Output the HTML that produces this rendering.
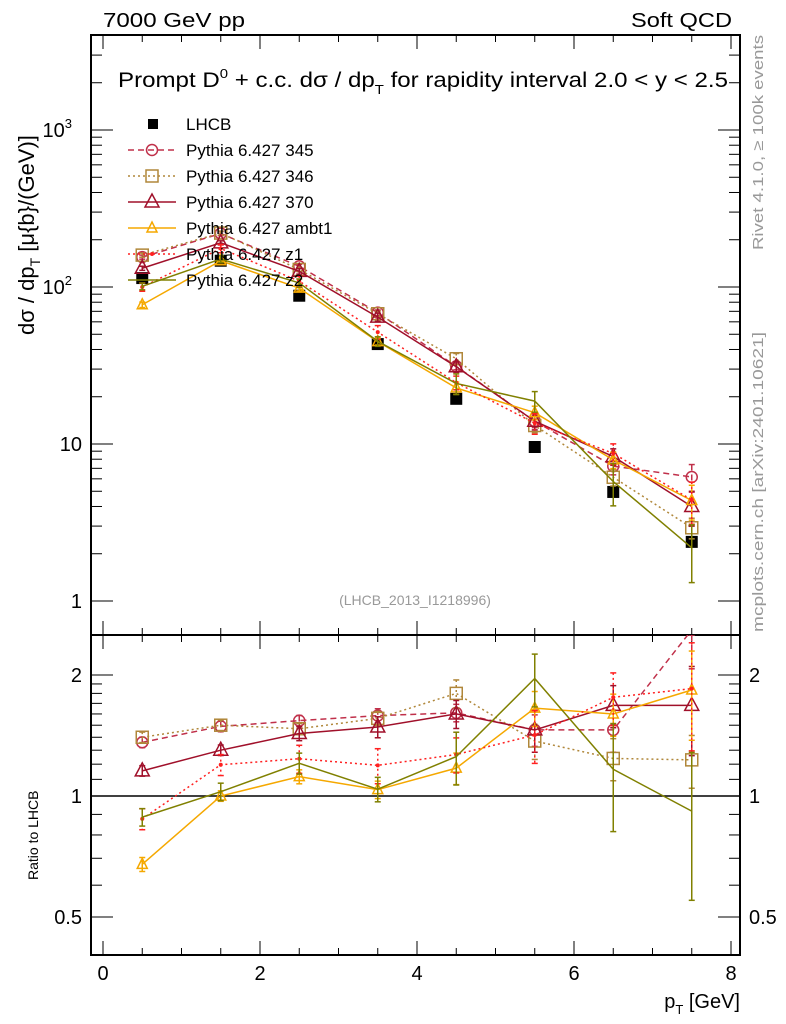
<!DOCTYPE html>
<html><head><meta charset="utf-8"><style>
body{margin:0;background:#fff}
svg{display:block;font-family:"Liberation Sans",sans-serif}
</style></head><body>
<svg id="c" width="786" height="1024" viewBox="0 0 786 1024" xmlns="http://www.w3.org/2000/svg">
<rect width="786" height="1024" fill="#fff"/>
<text x="103" y="27" font-size="20" textLength="142" lengthAdjust="spacingAndGlyphs">7000 GeV pp</text>
<text x="732" y="27" font-size="20" text-anchor="end" textLength="101" lengthAdjust="spacingAndGlyphs">Soft QCD</text>
<text x="118" y="87" font-size="21" textLength="610" lengthAdjust="spacingAndGlyphs">Prompt D<tspan dy="-9" font-size="13">0</tspan><tspan dy="9"> + c.c.  dσ / dp</tspan><tspan dy="7" font-size="13">T</tspan><tspan dy="-7"> for rapidity interval 2.0 &lt; y &lt; 2.5</tspan></text>
<text transform="translate(34,335) rotate(-90)" font-size="22">dσ / dp<tspan dy="6" font-size="14">T</tspan><tspan dy="-6"> [μ{b}/(GeV)]</tspan></text>
<text transform="translate(38,880) rotate(-90)" font-size="14">Ratio to LHCB</text>
<text x="740" y="1008" font-size="20" text-anchor="end">p<tspan dy="6" font-size="13">T</tspan><tspan dy="-6"> [GeV]</tspan></text>
<text transform="translate(763,250) rotate(-90)" font-size="15" fill="#999" textLength="215" lengthAdjust="spacingAndGlyphs">Rivet 4.1.0, ≥ 100k events</text>
<text transform="translate(763,632) rotate(-90)" font-size="15" fill="#999" textLength="300" lengthAdjust="spacingAndGlyphs">mcplots.cern.ch [arXiv:2401.10621]</text>
<text x="415" y="605" font-size="14" fill="#999" text-anchor="middle">(LHCB_2013_I1218996)</text>
<g id="g"></g>
</svg>
<script>
const xs=[0.5,1.5,2.5,3.5,4.5,5.5,6.5,7.5];
const lhcb=[114,147,88,43.3,19.4,9.57,4.95,2.38];
const lhcbErr=[0.05,0.05,0.05,0.05,0.05,0.06,0.07,0.08];
const r345=[1.36,1.49,1.54,1.585,1.61,1.46,1.46,2.59];
const r346=[1.40,1.50,1.47,1.56,1.80,1.37,1.24,1.23];
const r370=[1.155,1.30,1.43,1.485,1.60,1.46,1.68,1.68];
const rambt1=[0.676,1.0,1.117,1.037,1.173,1.654,1.60,1.835];
const rz1=[0.877,1.196,1.238,1.192,1.268,1.418,1.76,1.85];
const rz2=[0.886,1.025,1.206,1.04,1.253,1.96,1.165,0.917];
const e345=[0.03,0.03,0.03,0.04,0.05,0.09,0.12,0.2];
const e346=[0.03,0.03,0.03,0.04,0.08,0.1,0.12,0.15];
const e370=[0.03,0.03,0.04,0.06,0.08,0.12,0.12,0.25];
const eambt1=[0.04,0.03,0.04,0.05,0.09,0.1,0.12,0.25];
const ez1=[0.06,0.06,0.08,0.1,0.1,0.15,0.15,0.3];
const ez2=[0.05,0.05,0.06,0.07,0.15,0.15,0.3,0.4];
const xTicks=[0,2,4,6,8];
const ns="http://www.w3.org/2000/svg",G=document.getElementById('g');
const X0=91,X1=740,T=35,MB=635,RB=955;
const px=v=>103+v*78.5;
const py=v=>601-157*Math.log10(v);
const ry=v=>796-402*Math.log10(v);
function el(t,a,p){const e=document.createElementNS(ns,t);for(const k in a)e.setAttribute(k,a[k]);(p||G).appendChild(e);return e;}
function ln(x1,y1,x2,y2,s,w){return el('line',{x1,y1,x2,y2,stroke:s||'#000','stroke-width':w||1});}
const f1=el('rect',{x:X0,y:T,width:X1-X0,height:MB-T,fill:'none',stroke:'#000','stroke-width':2});


const f2=el('rect',{x:X0,y:MB,width:X1-X0,height:RB-MB,fill:'none',stroke:'#000','stroke-width':2});


for(let v=0;v<=8.01;v+=0.5){const maj=Math.abs(v-Math.round(v/2)*2)<1e-6;const L=maj?14:7;const x=px(v);
 [[T,T+L],[MB,MB-L],[MB,MB+L],[RB,RB-L]].forEach(a=>ln(x,a[0],x,a[1]));}
xTicks.forEach(v=>{const t=el('text',{x:px(v),y:980,'font-size':20,'text-anchor':'middle'});t.textContent=v;

});
for(let d=0;d<4;d++)for(let m=1;m<10;m++){const v=m*Math.pow(10,d);const y=py(v);if(y<T)continue;const L=m==1?22:11;ln(X0,y,X0+L,y);ln(X1,y,X1-L,y);}
const yl=[[1,'1'],[10,'10'],[100,'10','2'],[1000,'10','3']];
yl.forEach(a=>{const t=el('text',{x:a[2]?72:82,y:py(a[0])+7,'font-size':20,'text-anchor':'end'});t.textContent=a[1];
 if(a[2]){const s=el('tspan',{dy:-9,'font-size':13},t);s.textContent=a[2];}
 
 });
const rt=[0.5,0.6,0.7,0.8,0.9,1,1.1,1.2,1.3,1.4,1.5,1.6,1.7,1.8,1.9,2];
rt.forEach(v=>{const y=ry(v);if(y<MB)return;const maj=(v==0.5||v==1||v==2);const L=maj?22:11;ln(X0,y,X0+L,y);ln(X1,y,X1-L,y);});
[[0.5,'0.5'],[1,'1'],[2,'2']].forEach(a=>{[[82,'end'],[749,'start']].forEach(p=>{const t=el('text',{x:p[0],y:ry(a[0])+7,'font-size':20,'text-anchor':p[1]});t.textContent=a[1];
 
 });});
ln(X0,ry(1),X1,ry(1),'#000',1.5);
const series=[
 {n:'pythia-345',r:r345,e:e345,c:'#c0304a',d:'6,4',m:'circle',lab:'Pythia 6.427 345'},
 {n:'pythia-346',r:r346,e:e346,c:'#b0873a',d:'2,3',m:'square',lab:'Pythia 6.427 346'},
 {n:'pythia-370',r:r370,e:e370,c:'#a0102a',d:'',m:'tri',lab:'Pythia 6.427 370'},
 {n:'pythia-ambt1',r:rambt1,e:eambt1,c:'#f5a800',d:'',m:'stri',lab:'Pythia 6.427 ambt1'},
 {n:'pythia-z1',r:rz1,e:ez1,c:'#ff2020',d:'2,3',m:'dot',lab:'Pythia 6.427 z1'},
 {n:'pythia-z2',r:rz2,e:ez2,c:'#808000',d:'',m:'none',lab:'Pythia 6.427 z2'}];
function marker(m,x,y,c,g){
 if(m=='circle')el('circle',{cx:x,cy:y,r:5.5,fill:'none',stroke:c,'stroke-width':1.5},g);
 else if(m=='square')el('rect',{x:x-6,y:y-6,width:12,height:12,fill:'none',stroke:c,'stroke-width':1.5},g);
 else if(m=='tri')el('path',{d:`M${x},${y-8}L${x+7},${y+5}L${x-7},${y+5}Z`,fill:'none',stroke:c,'stroke-width':1.5},g);
 else if(m=='stri')el('path',{d:`M${x},${y-6}L${x+5},${y+4}L${x-5},${y+4}Z`,fill:'none',stroke:c,'stroke-width':1.5},g);
 else if(m=='dot')el('circle',{cx:x,cy:y,r:2,fill:c},g);
}
function draw(s,vals,err,ym,clipTop,clipBot,nm){
 const g=el('g',{});
 
 
 const pts=vals.map((v,i)=>[px(xs[i]),ym(v)]);
 el('polyline',{points:pts.map(p=>p.join(',')).join(' '),fill:'none',stroke:s.c,'stroke-width':1.5,'stroke-dasharray':s.d},g);
 vals.forEach((v,i)=>{const x=px(xs[i]);const y1=Math.max(clipTop,ym(v*(1+err[i]))),y2=Math.min(clipBot,ym(v*(1-err[i])));
  el('line',{x1:x,y1,x2:x,y2,stroke:s.c,'stroke-width':1.5,'stroke-dasharray':s.d},g);
  el('line',{x1:x-3,y1,x2:x+3,y2:y1,stroke:s.c,'stroke-width':1.5},g);el('line',{x1:x-3,y1:y2,x2:x+3,y2,stroke:s.c,'stroke-width':1.5},g);
  const y=ym(v);if(y>clipTop&&y<clipBot)marker(s.m,x,y,s.c,g);});
 return g;}
const cp=el('clipPath',{id:'cr'});el('rect',{x:X0,y:MB,width:X1-X0,height:RB-MB},cp);
lhcb.forEach((v,i)=>{const x=px(xs[i]),y=py(v);
 ln(x,py(v*(1+lhcbErr[i])),x,py(v*(1-lhcbErr[i])));
 const r=el('rect',{x:x-6,y:y-6,width:12,height:12,fill:'#000'});
 
 });
series.forEach(s=>{
 draw(s,s.r.map((r,i)=>r*lhcb[i]),s.e,py,T,MB,s.n+'-main');
 const g=draw(s,s.r,s.e,ry,MB,RB,s.n+'-ratio');g.setAttribute('clip-path','url(#cr)');
});
const leg=el('g',{});


const ly0=124;
el('rect',{x:148,y:ly0-5,width:10,height:10,fill:'#000'},leg);
let t=el('text',{x:186,y:ly0+6,'font-size':17},leg);t.textContent='LHCB';
series.forEach((s,i)=>{const y=ly0+26*(i+1);
 el('line',{x1:128,y1:y,x2:176,y2:y,stroke:s.c,'stroke-width':1.5,'stroke-dasharray':s.d},leg);
 marker(s.m,152,y,s.c,leg);
 const tt=el('text',{x:186,y:y+6,'font-size':17},leg);tt.textContent=s.lab;
 
 });
</script>
</body></html>
